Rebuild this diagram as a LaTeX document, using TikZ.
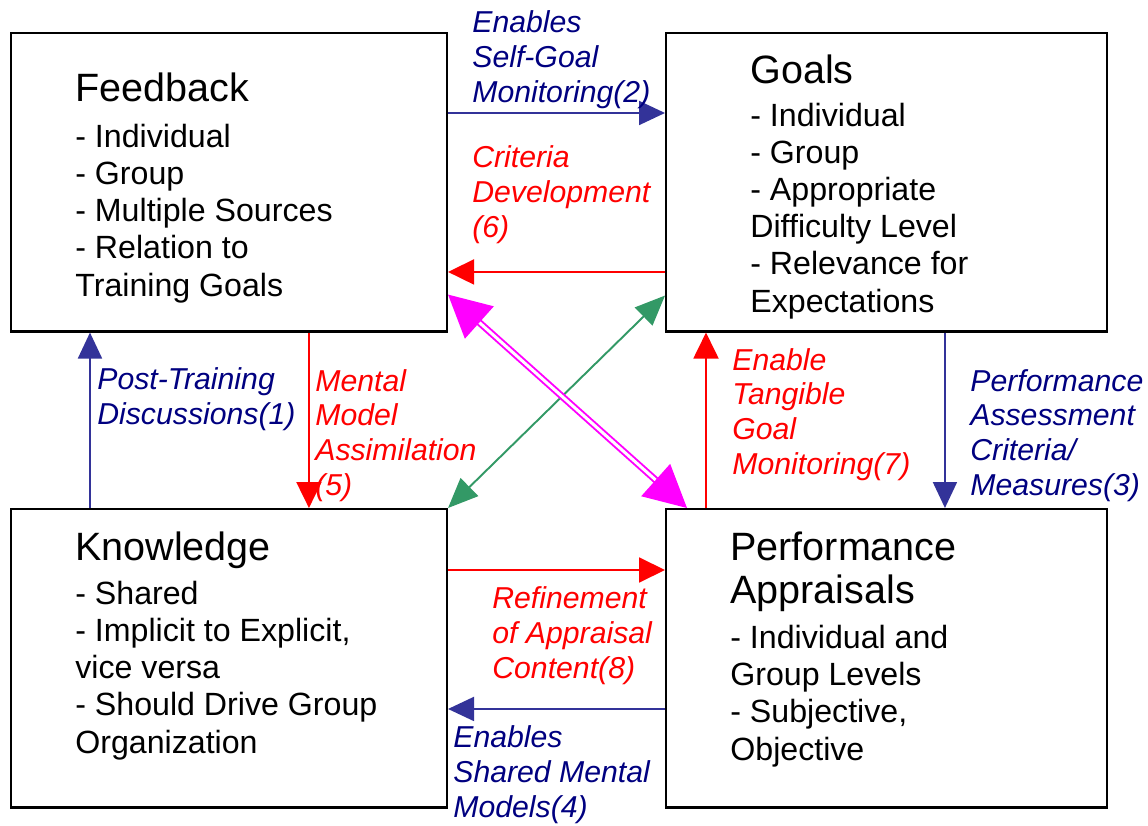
\documentclass[tikz,border=0pt]{standalone}
\usepackage{fontspec}
\setmainfont{Liberation Sans}
\usetikzlibrary{arrows.meta}
\definecolor{navytext}{RGB}{0,0,128}
\definecolor{arrowblue}{RGB}{51,51,153}
\definecolor{arrowgreen}{RGB}{51,153,102}
\definecolor{arrowmagenta}{RGB}{255,0,255}
\definecolor{arrowred}{RGB}{255,0,0}
\newcommand{\titlesize}{\fontsize{22.5}{24.4}\selectfont}
\newcommand{\bodysize}{\fontsize{18.3}{21.15}\selectfont}
\newcommand{\labelsize}{\fontsize{17.2}{19.7}\selectfont\itshape}

\begin{document}
\begin{tikzpicture}[
			x=0.02cm, y=-0.02cm,
			box/.style={rectangle, draw, line width=1.2pt, anchor=north west,
				minimum height=5.97cm, inner sep=0pt},
			title/.style={anchor=base west, inner sep=0pt, align=left, font=\titlesize},
			body/.style={anchor=base west, inner sep=0pt, align=left, font=\bodysize},
			lbl/.style={anchor=base west, inner sep=0pt, align=left, font=\labelsize},
			blueflow/.style={arrowblue, line width=1.1pt, -{Triangle[length=0.52cm, width=0.48cm]}},
			redflow/.style={arrowred, line width=1.1pt, -{Triangle[length=0.52cm, width=0.5cm]}},
			]
			\useasboundingbox (0,0) rectangle (1148,825);
			\node [box, minimum width=8.72cm] (feedback) at (10,32) {};
			\node [box, minimum width=8.82cm] (goals) at (665,32) {};
			\node [box, minimum width=8.72cm] (knowledge) at (10,508) {};
			\node [box, minimum width=8.82cm] (perf) at (665,508) {};

			\node [title] (feedbacktitle) at (75,101) {Feedback};
			\node [body] (feedbacklist) at (75,296) {- Individual\\- Group\\- Multiple Sources\\
				- Relation to\\Training Goals};
			\node [title] (goalstitle) at (750,83) {Goals};
			\node [body] (goalslist) at (750,312) {- Individual\\- Group\\- Appropriate\\
				Difficulty Level\\- Relevance for\\Expectations};
			\node [title] (knowledgetitle) at (75,560) {Knowledge};
			\node [body] (knowledgelist) at (75,753) {- Shared\\- Implicit to Explicit,\\
				vice versa\\- Should Drive Group\\Organization};
			\node [title] (perftitle) at (730,603) {Performance\\Appraisals};
			\node [body] (perflist) at (730,760) {- Individual and\\Group Levels\\
				- Subjective,\\Objective};

			\draw [blueflow] ([xshift=1.6cm]knowledge.north west) -- ([xshift=1.6cm]feedback.south west);
			\draw [redflow] ([xshift=5.98cm]feedback.south west) -- ([xshift=5.98cm]knowledge.north west);
			\draw [blueflow] ([yshift=-1.62cm]feedback.north east) -- ([yshift=-1.62cm]goals.north west);
			\draw [redflow] ([yshift=-4.8cm]goals.north west) -- ([yshift=-4.8cm]feedback.north east);
			\draw [redflow] ([xshift=0.82cm]perf.north west) -- ([xshift=0.82cm]goals.south west);
			\draw [blueflow] ([xshift=5.6cm]goals.south west) -- ([xshift=5.6cm]perf.north west);
			\draw [redflow] ([yshift=-1.24cm]knowledge.north east) -- ([yshift=-1.24cm]perf.north west);
			\draw [blueflow] ([yshift=-4.02cm]perf.north west) -- ([yshift=-4.02cm]knowledge.north east);
			\draw [arrowgreen, line width=1.1pt,
				{Triangle[length=0.6cm, width=0.5cm]}-{Triangle[length=0.6cm, width=0.5cm]}]
				(knowledge.north east) -- ([yshift=0.74cm]goals.south west);
			\draw [arrowmagenta, line width=1.1pt, double=white, double distance=1.7pt,
				{Triangle[length=0.84cm, width=0.86cm]}-{Triangle[length=0.84cm, width=0.86cm]}]
				([yshift=0.76cm]feedback.south east) -- ([xshift=0.44cm]perf.north west);

			\node [lbl, navytext] (selfgoal) at (472,102) {Enables\\Self-Goal\\Monitoring(2)};
			\node [lbl, arrowred] (criteria) at (472,237) {Criteria\\Development\\(6)};
			\node [lbl, navytext] (posttraining) at (97,424) {Post-Training\\Discussions(1)};
			\node [lbl, arrowred] (mentalmodel) at (315,495) {Mental\\Model\\Assimilation\\(5)};
			\node [lbl, arrowred] (tangible) at (732,474) {Enable\\Tangible\\Goal\\Monitoring(7)};
			\node [lbl, navytext] (assessment) at (970,495) {Performance\\Assessment\\Criteria/\\Measures(3)};
			\node [lbl, arrowred] (refinement) at (492,678) {Refinement\\of Appraisal\\Content(8)};
			\node [lbl, navytext] (sharedmodels) at (453,817) {Enables\\Shared Mental\\Models(4)};
		\end{tikzpicture}
\end{document}
